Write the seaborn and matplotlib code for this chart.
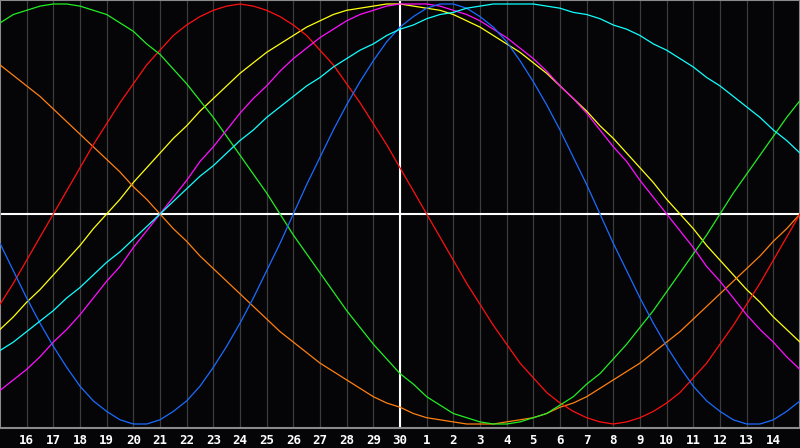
import matplotlib
matplotlib.use('Agg')
import matplotlib.pyplot as plt
import pandas as pd
import seaborn as sns

# days shown: the 15th of one month to the 15th of the next (30-day month)
day_labels = ['15', '16', '17', '18', '19', '20', '21', '22', '23', '24', '25', '26', '27', '28', '29', '30',
              '1', '2', '3', '4', '5', '6', '7', '8', '9', '10', '11', '12', '13', '14', '15']
day_offset = list(range(-15, 16))
half_offset = [d + 0.5 for d in day_offset[:-1]]

# cycle values in percent at each day and at each half day
physical_day = [-14, -40, -63, -82, -94, -100, -98, -89, -73, -52, -27, 0, 27, 52, 73, 89,
                98, 100, 94, 82, 63, 40, 14, -14, -40, -63, -82, -94, -100, -98, -89]
physical_half = [-27, -52, -73, -89, -98, -100, -94, -82, -63, -40, -14, 14, 40, 63, 82,
                 94, 100, 98, 89, 73, 52, 27, 0, -27, -52, -73, -89, -98, -100, -94]
emotional_day = [-43, -22, 0, 22, 43, 62, 78, 90, 97, 100, 97, 90, 78, 62, 43, 22,
                 0, -22, -43, -62, -78, -90, -97, -100, -97, -90, -78, -62, -43, -22, 0]
emotional_half = [-33, -11, 11, 33, 53, 71, 85, 94, 99, 99, 94, 85, 71, 53, 33,
                  11, -11, -33, -53, -71, -85, -94, -99, -99, -94, -85, -71, -53, -33, -11]
intellectual_day = [91, 97, 100, 99, 95, 87, 76, 62, 46, 28, 10, -10, -28, -46, -62, -76,
                    -87, -95, -99, -100, -97, -91, -81, -69, -54, -37, -19, 0, 19, 37, 54]
intellectual_half = [95, 99, 100, 97, 91, 81, 69, 54, 37, 19, 0, -19, -37, -54, -69,
                     -81, -91, -97, -100, -99, -95, -87, -76, -62, -46, -28, -10, 10, 28, 46]
intuitive_day = [-84, -74, -61, -48, -32, -16, 0, 16, 32, 48, 61, 74, 84, 92, 97, 100,
                 100, 97, 92, 84, 74, 61, 48, 32, 16, 0, -16, -32, -48, -61, -74]
intuitive_half = [-79, -68, -55, -40, -25, -8, 8, 25, 40, 55, 68, 79, 88, 95, 99,
                  100, 99, 95, 88, 79, 68, 55, 40, 25, 8, -8, -25, -40, -55, -68]
aesthetic_day = [-55, -42, -29, -15, 0, 15, 29, 42, 55, 67, 77, 85, 92, 97, 99, 100,
                 98, 95, 89, 81, 72, 61, 49, 36, 22, 7, -7, -22, -36, -49, -61]
aesthetic_half = [-49, -36, -22, -7, 7, 22, 36, 49, 61, 72, 81, 89, 95, 98, 100,
                  99, 97, 92, 85, 77, 67, 55, 42, 29, 15, 0, -15, -29, -42, -55]
awareness_day = [71, 61, 50, 38, 26, 13, 0, -13, -26, -38, -50, -61, -71, -79, -87, -92,
                 -97, -99, -100, -99, -97, -92, -87, -79, -71, -61, -50, -38, -26, -13, 0]
awareness_half = [66, 56, 44, 32, 20, 7, -7, -20, -32, -44, -56, -66, -75, -83, -90,
                  -95, -98, -100, -100, -98, -95, -90, -83, -75, -66, -56, -44, -32, -20, -7]
spiritual_day = [-65, -56, -46, -35, -23, -12, 0, 12, 23, 35, 46, 56, 65, 74, 81, 88,
                 93, 96, 99, 100, 100, 98, 95, 90, 85, 78, 70, 61, 51, 40, 29]
spiritual_half = [-61, -51, -40, -29, -18, -6, 6, 18, 29, 40, 51, 61, 70, 78, 85,
                  90, 95, 98, 100, 100, 99, 96, 93, 88, 81, 74, 65, 56, 46, 35]

cycles = {
    'physical': (physical_day, physical_half),
    'emotional': (emotional_day, emotional_half),
    'intellectual': (intellectual_day, intellectual_half),
    'intuitive': (intuitive_day, intuitive_half),
    'aesthetic': (aesthetic_day, aesthetic_half),
    'awareness': (awareness_day, awareness_half),
    'spiritual': (spiritual_day, spiritual_half),
}
palette = {'physical': '#1a6cff', 'emotional': '#ff1010', 'intellectual': '#22ee22', 'intuitive': '#ff10ff',
           'aesthetic': '#ffff10', 'awareness': '#ff8010', 'spiritual': '#10ffff'}

frames = []
for name, (full, half) in cycles.items():
    frames.append(pd.DataFrame({'day': day_offset, 'value': full, 'cycle': name}))
    frames.append(pd.DataFrame({'day': half_offset, 'value': half, 'cycle': name}))
df = pd.concat(frames).sort_values(['cycle', 'day'])
df['value'] = df['value'] / 100

bg = '#050508'
sns.set_style('dark', {'axes.facecolor': bg, 'figure.facecolor': bg})

fig = plt.figure(figsize=(8, 4.48), dpi=100)
ax = fig.add_axes([0, 20 / 448, 1, 428 / 448])

# day grid
for d in day_offset[1:-1]:
    ax.axvline(d, color='#3c3c3c', lw=0.9, zorder=1)
ax.axvline(0, color='white', lw=1.5, zorder=1)
ax.axhline(0, color='white', lw=1.5, zorder=1)

sns.lineplot(data=df, x='day', y='value', hue='cycle', palette=palette, sort=False,
             estimator=None, lw=0.9, legend=False, ax=ax, zorder=3)

ax.set_xlim(-15, 15)
ax.set_ylim(-214 / 210, 214 / 210)
ax.set_yticks([])
ax.set_xticks(day_offset[1:-1])
ax.set_xticklabels(day_labels[1:-1], color='white', fontweight='bold', fontsize=9, family='DejaVu Sans Mono')
ax.tick_params(axis='x', length=0, pad=4)
ax.set_xlabel('')
ax.set_ylabel('')
ax.grid(False)
for s in ax.spines.values():
    s.set_visible(True)
    s.set_color('#8a8a8a')
    s.set_linewidth(1.5)

fig.savefig('out.png', dpi=100, facecolor=bg)
